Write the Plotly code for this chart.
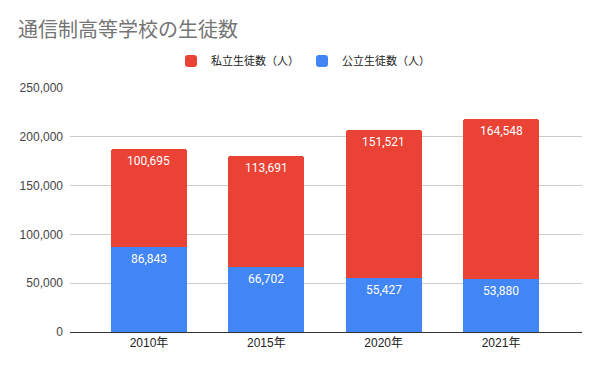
import plotly.graph_objects as go

categories = ["2010年", "2015年", "2020年", "2021年"]
public_students = [86843, 66702, 55427, 53880]
private_students = [100695, 113691, 151521, 164548]
y_ticks = [0, 50000, 100000, 150000, 200000, 250000]

FONT = "Roboto, 'Noto Sans CJK JP', sans-serif"
AXFONT = "Arial, 'Liberation Sans', 'Noto Sans CJK JP', sans-serif"

# page body has an 8px margin, so the figure is sized to fit the 600x371 window
W, H = 592, 363

fig = go.Figure()
fig.add_trace(go.Bar(
    x=categories, y=public_students, name="公立生徒数（人）",
    marker=dict(color="#4285F4", line=dict(width=0)), width=0.65,
))
fig.add_trace(go.Bar(
    x=categories, y=private_students, name="私立生徒数（人）",
    marker=dict(color="#EA4335", line=dict(width=0)), width=0.65,
))

annotations = []
for c, pu, pr in zip(categories, public_students, private_students):
    for top, val in ((pu, pu), (pu + pr, pr)):
        annotations.append(dict(
            x=c, y=top, xref="x", yref="y", text=f"{val:,}", showarrow=False,
            yanchor="middle", yshift=-12,
            font=dict(color="white", size=12, family=FONT),
        ))

fig.update_layout(
    width=W, height=H,
    barmode="stack", barcornerradius=3,
    plot_bgcolor="white", paper_bgcolor="white",
    margin=dict(l=62, r=18, t=80, b=39, autoexpand=False),
    font=dict(family=FONT, color="#444444", size=11),
    title=dict(text="通信制高等学校の生徒数", x=10 / W, xanchor="left",
               y=1 - 22 / H, yanchor="middle", xref="container", yref="container",
               font=dict(size=20, color="#757575", family=FONT)),
    legend=dict(orientation="h", traceorder="reversed", xref="container", yref="container",
                x=294 / W, xanchor="center", y=1 - 53 / H, yanchor="middle",
                font=dict(size=11, color="#222222", family=FONT),
                itemwidth=30, entrywidth=86),
    annotations=annotations,
    showlegend=True,
)
fig.update_xaxes(range=[-0.673, 3.69], showgrid=False, showline=True, linecolor="#333333",
                 linewidth=1, ticks="", tickfont=dict(size=12, color="#222222", family=AXFONT))
fig.update_yaxes(range=[0, 250000], tickvals=y_ticks, tickformat=",", showgrid=True,
                 gridcolor="#CCCCCC", gridwidth=1, zeroline=False, showline=False,
                 ticks="", ticklabelstandoff=6, tickfont=dict(size=12, color="#444444", family=AXFONT))

fig.write_html("out.html")
